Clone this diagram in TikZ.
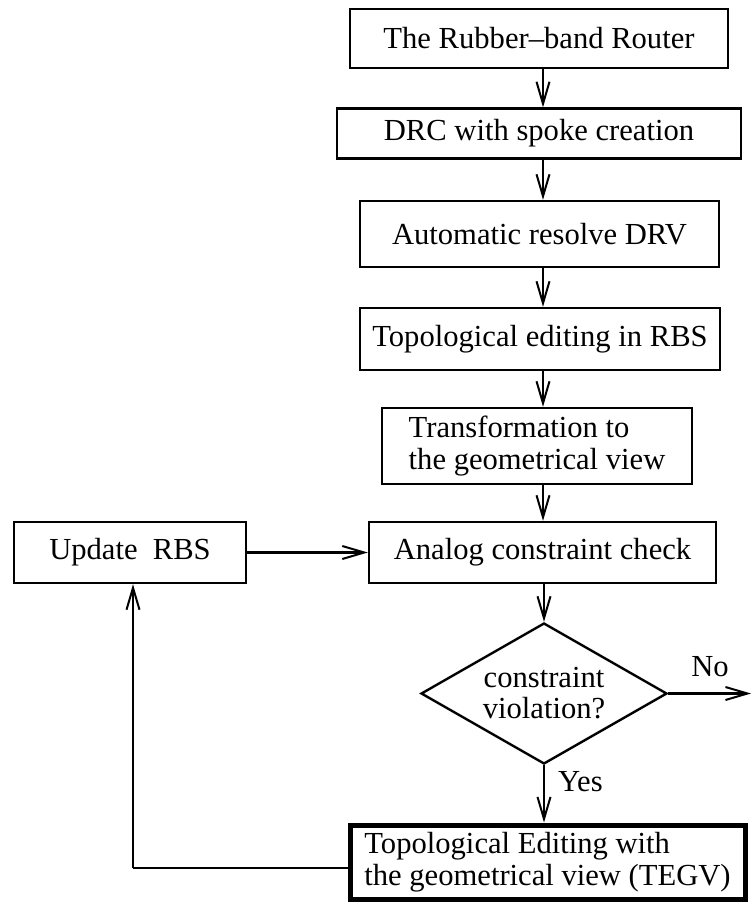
\documentclass[tikz,border=0pt]{standalone}
\usepackage{fontspec}
\setmainfont{Liberation Serif}
\usetikzlibrary{arrows.meta,shapes.geometric}

\begin{document}
\begin{tikzpicture}[x=1pt,y=-1pt,
    every node/.style={font=\fontsize{30.6}{32}\selectfont, text=black},
    stepbox/.style={draw, line width=2.4pt, inner sep=0pt},
    finalbox/.style={draw, line width=5pt, inner sep=0pt},
    decision/.style={draw, diamond, line width=2.4pt, inner sep=0pt, aspect=1.745,
                     minimum width=246pt, minimum height=141pt, align=center},
    flow/.style={line width=2.4pt, -{Straight Barb[length=22pt,width=13pt,line width=2pt]}},
    plain/.style={line width=2.4pt}]

  \useasboundingbox (0,0) rectangle (752,907);

  % main column of processing steps
  \node[stepbox, minimum width=378pt, minimum height=59pt] (rbr) at (539,38.5) {The Rubber--band Router};
  \node[stepbox, minimum width=404pt, minimum height=50pt] (drc) at (539,133.5) {DRC with spoke creation};
  \node[stepbox, minimum width=359pt, minimum height=66pt] (drv) at (539.5,234) {Automatic resolve DRV};
  \node[stepbox, minimum width=360pt, minimum height=62pt] (top) at (540,339) {Topological editing in RBS};
  \node[stepbox, minimum width=310pt, minimum height=76pt, align=left] (trf) at (537,446)
       {Transformation to\\the geometrical view};
  \node[stepbox, minimum width=347pt, minimum height=61pt] (acc) at (542.5,552.5) {Analog constraint check};
  \node[stepbox, minimum width=232pt, minimum height=61pt] (upd) at (130,552.5) {Update~~RBS};
  \node[decision] (viol) at (544,693.5) {constraint\\[-1pt]violation?};
  \node[finalbox, minimum width=395pt, minimum height=74pt, align=left] (tegv) at (547.5,862)
       {Topological Editing with\\the geometrical view (TEGV)};

  % helper points
  \coordinate (ax) at (543,0);
  \coordinate (noend) at (751,693.5);
  \coordinate (lp) at (133,868);

  % labels on the decision outputs
  \node[anchor=center] (nolab) at (710,667) {No};
  \node[anchor=west, inner sep=0pt] (yeslab) at (558,782) {Yes};

  % connectors
  \draw[flow] (rbr.south -| ax) -- (drc.north -| ax);
  \draw[flow] (drc.south -| ax) -- (drv.north -| ax);
  \draw[flow] (drv.south -| ax) -- (top.north -| ax);
  \draw[flow] (top.south -| ax) -- (trf.north -| ax);
  \draw[flow] (trf.south -| ax) -- (acc.north -| ax);
  \draw[flow] (acc.south -| viol.north) -- (viol.north);
  \draw[flow] (upd.east) -- (acc.west);
  \draw[flow] (viol.east) -- (noend);
  \draw[flow] (viol.south) -- (tegv.north -| viol.south);
  \draw[plain] (tegv.west |- lp) -- (lp);
  \draw[flow] (lp) -- (upd.south -| lp);
\end{tikzpicture}
\end{document}
